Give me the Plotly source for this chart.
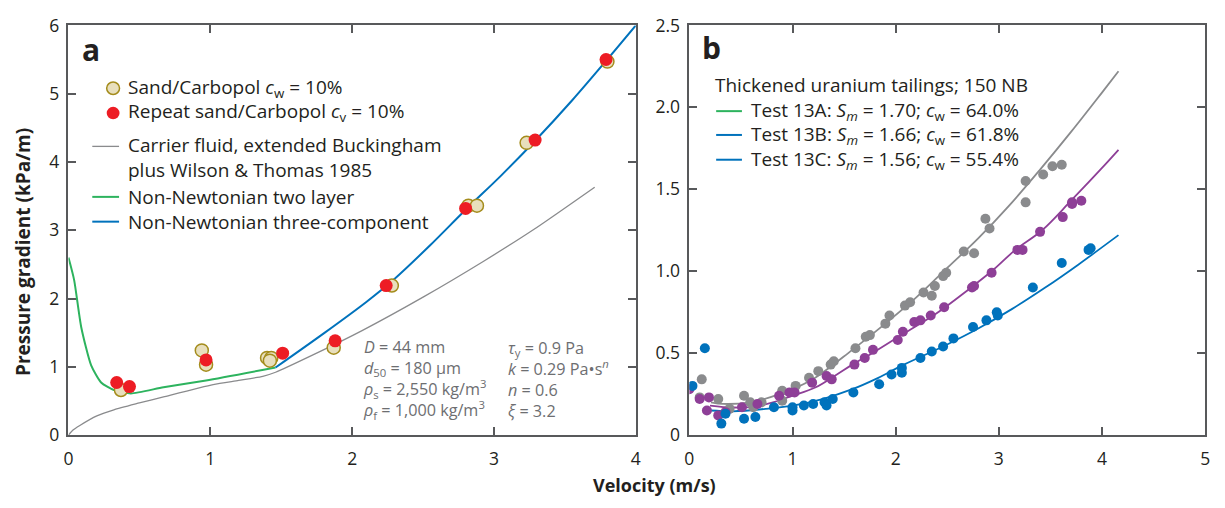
import plotly.graph_objects as go

# ---------------- Panel a data ----------------
sand_x = [0.37, 0.94, 0.97, 1.40, 1.43, 1.42, 1.87, 2.28, 2.82, 2.88, 3.23, 3.80]
sand_y = [0.66, 1.24, 1.03, 1.13, 1.13, 1.09, 1.28, 2.19, 3.36, 3.36, 4.28, 5.47]
repeat_x = [0.34, 0.43, 0.97, 1.51, 1.88, 2.24, 2.80, 3.29, 3.79]
repeat_y = [0.77, 0.71, 1.10, 1.20, 1.38, 2.19, 3.32, 4.32, 5.50]

carrier_x = [0.0, 0.03, 0.08, 0.20, 0.32, 0.50, 0.67, 1.02, 1.20, 1.37, 1.46, 1.72, 2.07, 2.50, 2.93, 3.28, 3.71]
carrier_y = [0.0, 0.07, 0.14, 0.28, 0.37, 0.47, 0.56, 0.74, 0.80, 0.86, 0.92, 1.17, 1.53, 2.02, 2.55, 3.01, 3.63]

twolayer_x = [0.0, 0.04, 0.09, 0.16, 0.23, 0.32, 0.44, 0.67, 0.97, 1.46]
twolayer_y = [2.60, 2.27, 1.58, 1.02, 0.77, 0.66, 0.61, 0.70, 0.80, 0.99]

three_x = [1.46, 1.80, 2.10, 2.30, 2.55, 2.80, 3.05, 3.29, 3.55, 3.79, 4.00]
three_y = [0.99, 1.49, 1.95, 2.29, 2.78, 3.30, 3.80, 4.31, 4.90, 5.48, 6.00]

# ---------------- Panel b data ----------------
a13_x = [0.12, 0.10, 0.28, 0.39, 0.53, 0.59, 0.62, 0.70, 0.90, 0.90, 1.03, 1.16, 1.25, 1.37, 1.40,
         1.61, 1.71, 1.75, 1.90, 1.94, 2.09, 2.14, 2.27, 2.35, 2.38, 2.46, 2.49, 2.66, 2.76, 2.87,
         2.91, 3.26, 3.26, 3.43, 3.52, 3.61]
a13_y = [0.34, 0.23, 0.22, 0.16, 0.24, 0.20, 0.17, 0.20, 0.27, 0.21, 0.30, 0.35, 0.39, 0.43, 0.45,
         0.53, 0.60, 0.61, 0.68, 0.73, 0.79, 0.81, 0.87, 0.85, 0.91, 0.97, 0.99, 1.12, 1.11, 1.32,
         1.26, 1.55, 1.42, 1.59, 1.64, 1.65]

b13_x = [0.00, 0.10, 0.19, 0.17, 0.28, 0.35, 0.51, 0.66, 0.87, 0.97, 1.02, 1.19, 1.33, 1.38, 1.60,
         1.70, 1.78, 2.02, 2.07, 2.18, 2.24, 2.34, 2.47, 2.74, 2.76, 2.93, 3.18, 3.23, 3.40, 3.62,
         3.71, 3.71, 3.80]
b13_y = [0.28, 0.22, 0.23, 0.15, 0.12, 0.14, 0.17, 0.19, 0.24, 0.26, 0.26, 0.32, 0.36, 0.34, 0.43,
         0.47, 0.52, 0.58, 0.63, 0.69, 0.70, 0.73, 0.78, 0.90, 0.91, 0.99, 1.13, 1.13, 1.24, 1.33,
         1.42, 1.41, 1.43]

c13_x = [0.03, 0.15, 0.31, 0.35, 0.53, 0.64, 0.82, 1.00, 1.00, 1.11, 1.20, 1.31, 1.33, 1.39, 1.59,
         1.84, 1.96, 2.06, 2.06, 2.24, 2.35, 2.46, 2.56, 2.75, 2.88, 2.98, 2.99, 3.33, 3.61, 3.87, 3.89]
c13_y = [0.30, 0.53, 0.07, 0.13, 0.10, 0.11, 0.17, 0.17, 0.15, 0.18, 0.19, 0.20, 0.18, 0.22, 0.26,
         0.31, 0.37, 0.38, 0.41, 0.47, 0.51, 0.54, 0.59, 0.66, 0.70, 0.75, 0.73, 0.90, 1.05, 1.13, 1.14]

a13_fit_x = [0.21, 0.33, 0.59, 0.78, 1.00, 1.22, 1.58, 1.90, 2.20, 2.50, 2.80, 3.10, 3.40, 3.70, 4.00, 4.16]
a13_fit_y = [0.20, 0.19, 0.20, 0.23, 0.28, 0.35, 0.52, 0.68, 0.84, 1.02, 1.20, 1.40, 1.62, 1.85, 2.09, 2.22]
b13_fit_x = [0.20, 0.36, 0.59, 0.81, 1.00, 1.22, 1.43, 1.58, 1.80, 2.08, 2.39, 2.71, 2.95, 3.16, 3.42, 3.70, 4.03, 4.16]
b13_fit_y = [0.18, 0.17, 0.17, 0.20, 0.24, 0.29, 0.37, 0.43, 0.51, 0.62, 0.74, 0.89, 1.01, 1.13, 1.25, 1.43, 1.65, 1.74]
c13_fit_x = [0.21, 0.42, 0.74, 1.00, 1.29, 1.58, 1.80, 2.08, 2.49, 2.80, 3.13, 3.45, 3.77, 4.16]
c13_fit_y = [0.15, 0.145, 0.16, 0.18, 0.22, 0.28, 0.34, 0.43, 0.55, 0.65, 0.77, 0.90, 1.04, 1.22]

a_xticks = [0, 1, 2, 3, 4]
a_yticks = [0, 1, 2, 3, 4, 5, 6]
b_xticks = [0, 1, 2, 3, 4, 5]
b_yticks = [0, 0.5, 1.0, 1.5, 2.0, 2.5]
b_yticklabels = ["0", "0.5", "1.0", "1.5", "2.0", "2.5"]

legend_a = ["Sand/Carbopol <i>c</i><sub>w</sub> = 10%",
            "Repeat sand/Carbopol <i>c</i><sub>v</sub> = 10%",
            "Carrier fluid, extended Buckingham<br>plus Wilson & Thomas 1985",
            "Non-Newtonian two layer",
            "Non-Newtonian three-component"]
legend_b_title = "Thickened uranium tailings; 150 NB"
legend_b = ["Test 13A: <i>S<sub>m</sub></i> = 1.70; <i>c</i><sub>w</sub> = 64.0%",
            "Test 13B: <i>S<sub>m</sub></i> = 1.66; <i>c</i><sub>w</sub> = 61.8%",
            "Test 13C: <i>S<sub>m</sub></i> = 1.56; <i>c</i><sub>w</sub> = 55.4%"]
params_left = "<i>D</i> = 44 mm<br><i>d</i><sub>50</sub> = 180 µm<br><i>ρ</i><sub>s</sub> = 2,550 kg/m<sup>3</sup><br><i>ρ</i><sub>f</sub> = 1,000 kg/m<sup>3</sup>"
params_right = "<i>τ</i><sub>y</sub> = 0.9 Pa<br><i>k</i> = 0.29 Pa•s<sup><i>n</i></sup><br><i>n</i> = 0.6<br><i>ξ</i> = 3.2"

# ---------------- styles ----------------
W, H = 1225, 508
TXT = "#231f20"
AX = "#58595b"
GRAY = "#8a8b8d"
GREEN = "#2db35e"
BLUE = "#0072bc"
PURPLE = "#8e3f97"
RED = "#ed1c24"
TAN = "#e8dfbd"
TAN_EDGE = "#a48c1c"
FONT = "Open Sans"
NARROW = "Liberation Sans Narrow, Open Sans"


def px(x):
    return x / W


def py(y):
    return 1 - y / H


fig = go.Figure()

# panel a lines
fig.add_trace(go.Scatter(x=carrier_x, y=carrier_y, mode="lines", line=dict(color=GRAY, width=1.3, shape="spline", smoothing=0.6),
                         xaxis="x", yaxis="y", showlegend=False))
fig.add_trace(go.Scatter(x=twolayer_x, y=twolayer_y, mode="lines", line=dict(color=GREEN, width=2, shape="spline", smoothing=0.6),
                         xaxis="x", yaxis="y", showlegend=False))
fig.add_trace(go.Scatter(x=three_x, y=three_y, mode="lines", line=dict(color=BLUE, width=2, shape="spline", smoothing=0.8),
                         xaxis="x", yaxis="y", showlegend=False))
fig.add_trace(go.Scatter(x=sand_x, y=sand_y, mode="markers",
                         marker=dict(size=13, color=TAN, line=dict(color=TAN_EDGE, width=1.5)),
                         xaxis="x", yaxis="y", showlegend=False))
fig.add_trace(go.Scatter(x=repeat_x, y=repeat_y, mode="markers",
                         marker=dict(size=13, color=RED, line=dict(width=0)),
                         xaxis="x", yaxis="y", showlegend=False))

# panel b
for fx, fy, c in [(a13_fit_x, a13_fit_y, GRAY), (b13_fit_x, b13_fit_y, PURPLE), (c13_fit_x, c13_fit_y, BLUE)]:
    fig.add_trace(go.Scatter(x=fx, y=fy, mode="lines", line=dict(color=c, width=1.8, shape="spline", smoothing=1.0),
                             xaxis="x2", yaxis="y2", showlegend=False))
for dx, dy, c in [(a13_x, a13_y, GRAY), (b13_x, b13_y, PURPLE), (c13_x, c13_y, BLUE)]:
    fig.add_trace(go.Scatter(x=dx, y=dy, mode="markers", marker=dict(size=10, color=c, line=dict(width=0)),
                             xaxis="x2", yaxis="y2", showlegend=False))

axis_common = dict(showline=True, linecolor=AX, linewidth=1.5, mirror="ticks", ticks="inside",
                   ticklen=8, tickwidth=1.5, tickcolor=AX, showgrid=False, zeroline=False,
                   tickfont=dict(family=NARROW, size=17.5, color=TXT))

fig.update_layout(
    width=W, height=H, margin=dict(l=0, r=0, t=0, b=0),
    paper_bgcolor="white", plot_bgcolor="white", showlegend=False,
    xaxis=dict(domain=[px(64), px(636)], range=[0, 4], tickvals=a_xticks, anchor="y",
               ticklabelstandoff=7, **axis_common),
    yaxis=dict(domain=[py(443), py(13)], range=[0, 6], tickvals=a_yticks, anchor="x",
               ticklabelstandoff=4, **axis_common),
    xaxis2=dict(domain=[px(690), px(1210)], range=[0, 5], tickvals=b_xticks, anchor="y2",
                ticklabelstandoff=7, **axis_common),
    yaxis2=dict(domain=[py(443), py(13)], range=[0, 2.5], tickvals=b_yticks, ticktext=b_yticklabels, anchor="x2",
                ticklabelstandoff=4, **axis_common),
)

ann = []
shapes = []

# axis titles
ann.append(dict(text="<b>Velocity (m/s)</b>", x=px(655), y=py(495), xref="paper", yref="paper",
                showarrow=False, font=dict(family=NARROW, size=18, color=TXT), xanchor="center", yanchor="middle"))
ann.append(dict(text="<b>Pressure gradient (kPa/m)</b>", x=px(18), y=py(251), xref="paper", yref="paper",
                showarrow=False, textangle=-90, font=dict(family=NARROW, size=19, color=TXT), xanchor="center", yanchor="middle"))

# panel labels
ann.append(dict(text="<b>a</b>", x=px(76), y=py(38), xref="paper", yref="paper", showarrow=False,
                font=dict(family=FONT, size=30, color=TXT), xanchor="left", yanchor="middle"))
ann.append(dict(text="<b>b</b>", x=px(701), y=py(36), xref="paper", yref="paper", showarrow=False,
                font=dict(family=FONT, size=30, color=TXT), xanchor="left", yanchor="middle"))

# legend a
LFS = 19
rows_a = [79, 104, 152, 193, 219]
for txt, yy in zip(legend_a, rows_a):
    ann.append(dict(text=txt, x=px(122), y=py(yy), xref="paper", yref="paper", showarrow=False,
                    font=dict(family=FONT, size=LFS, color=TXT), xanchor="left", yanchor="middle", align="left"))
shapes.append(dict(type="circle", xref="paper", yref="paper", x0=px(102.5), x1=px(115.5), y0=py(72.5), y1=py(85.5),
                   fillcolor=TAN, line=dict(color=TAN_EDGE, width=1.5)))
shapes.append(dict(type="circle", xref="paper", yref="paper", x0=px(102.5), x1=px(115.5), y0=py(98.5), y1=py(111.5),
                   fillcolor=RED, line=dict(width=0)))
for yy, c, w in [(140, GRAY, 1.3), (193, GREEN, 2), (219, BLUE, 2)]:
    shapes.append(dict(type="line", xref="paper", yref="paper", x0=px(88), x1=px(115), y0=py(yy), y1=py(yy),
                       line=dict(color=c, width=w)))

# legend b
ann.append(dict(text=legend_b_title, x=px(714), y=py(76), xref="paper", yref="paper", showarrow=False,
                font=dict(family=FONT, size=LFS, color=TXT), xanchor="left", yanchor="middle"))
for txt, yy, c in zip(legend_b, [103, 128, 154], [GREEN, BLUE, BLUE]):
    ann.append(dict(text=txt, x=px(750), y=py(yy), xref="paper", yref="paper", showarrow=False,
                    font=dict(family=FONT, size=LFS, color=TXT), xanchor="left", yanchor="middle"))
    shapes.append(dict(type="line", xref="paper", yref="paper", x0=px(717), x1=px(743), y0=py(yy), y1=py(yy),
                       line=dict(color=c, width=2)))

# parameter text
PGRAY = "#6d6e71"
ann.append(dict(text=params_left, x=px(359), y=py(385), xref="paper", yref="paper", showarrow=False, align="left",
                font=dict(family=FONT, size=16.2, color=PGRAY), xanchor="left", yanchor="middle"))
ann.append(dict(text=params_right, x=px(505), y=py(385), xref="paper", yref="paper", showarrow=False, align="left",
                font=dict(family=FONT, size=16.2, color=PGRAY), xanchor="left", yanchor="middle"))

fig.update_layout(annotations=ann, shapes=shapes)
fig.write_html("out.html")
